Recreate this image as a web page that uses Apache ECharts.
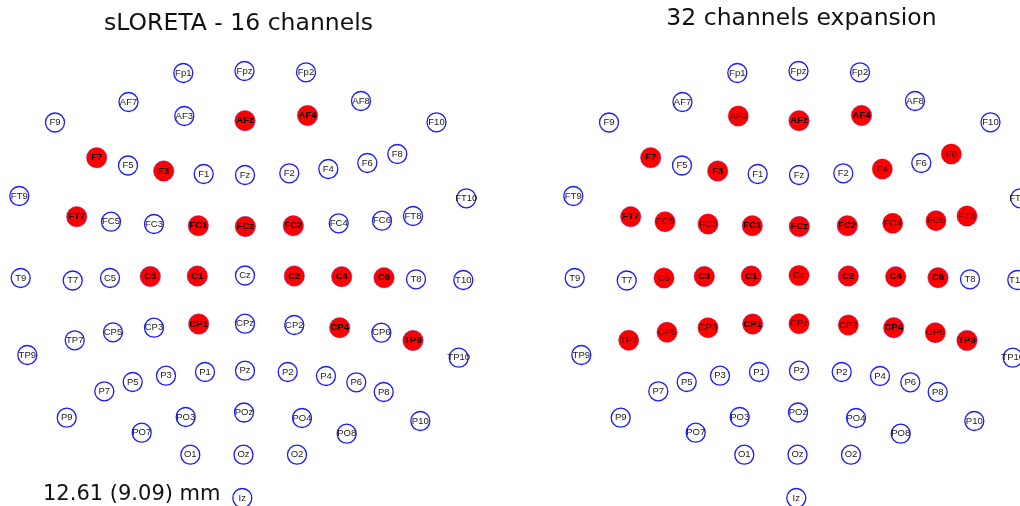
<!DOCTYPE html>
<html>
<head>
<meta charset="utf-8">
<script src="https://cdn.jsdelivr.net/npm/echarts@6/dist/echarts.min.js"></script>
<style>html,body{margin:0;padding:0;background:#fff}#c{width:1020px;height:506px}</style>
</head>
<body>
<div id="c"></div>
<script>
// Electrode names and positions (px-like units relative to Cz, y up)
var names = ['Fp1','Fpz','Fp2','AF7','AF3','AFz','AF4','AF8','F9','F7','F5','F3','F1','Fz','F2','F4','F6','F8','F10',
  'FT9','FT7','FC5','FC3','FC1','FCz','FC2','FC4','FC6','FT8','FT10',
  'T9','T7','C5','C3','C1','Cz','C2','C4','C6','T8','T10',
  'TP9','TP7','CP5','CP3','CP1','CPz','CP2','CP4','CP6','TP8','TP10',
  'P9','P7','P5','P3','P1','Pz','P2','P4','P6','P8','P10',
  'PO7','PO3','POz','PO4','PO8','O1','Oz','O2','Iz'];
var xs = [-61.7,-0.5,61,-116.5,-60.7,0,62.5,116,-190,-148.3,-117,-81.3,-41.3,0,44.3,83.3,122.3,152.3,191.5,
  -225.7,-168.3,-134,-91,-46.7,0.3,48.3,93.7,137,168,221.3,
  -224.3,-172.3,-135,-94.7,-47.7,0,49.3,96.7,139,171,218.3,
  -217.7,-170.3,-132,-91,-46.3,0,49.3,94.7,136.3,168,213.7,
  -178.3,-140.7,-112.3,-79,-40,0,42.7,81,111.3,138.7,175.3,
  -103.3,-59.3,-1,57,101.7,-54.7,-1.5,52,-2.7];
var ys = [202.5,204.5,203.2,173.5,159.5,154.8,160,174.5,153,117.8,110,104.5,101.5,100.5,102.2,106.5,112.5,121.5,153.2,
  79.5,58.8,53.8,51.5,49.8,49,49.8,52.2,54.8,59.5,77.2,
  -2.5,-5,-2.5,-1,-0.5,0,-0.5,-1.2,-2.2,-3.8,-4.5,
  -79.5,-64.8,-56.8,-52.2,-48.5,-48.2,-49.5,-52.2,-57.2,-65,-82.2,
  -142.2,-115.8,-106.5,-100.2,-96.5,-95.2,-96.5,-100.5,-106.8,-116.5,-145.5,
  -157.2,-141.5,-137,-142.5,-158.2,-179.2,-179.2,-179.2,-222.5];
var sel16 = ['AFz','AF4','F7','F3','FT7','FC1','FCz','FC2','C3','C1','C2','C4','C6','CP1','CP4','TP8'];
var sel32 = ['AF3','AFz','AF4','F7','F3','F4','F8','FT7','FC5','FC3','FC1','FCz','FC2','FC4','FC6','FT8',
  'C5','C3','C1','Cz','C2','C4','C6','TP7','CP5','CP3','CP1','CPz','CP2','CP4','CP6','TP8'];
var titles = ['sLORETA - 16 channels', '32 channels expansion'];
var errorText = '12.61 (9.09) mm';

function pts(filter) {
  var out = [];
  for (var i = 0; i < names.length; i++) if (filter(names[i])) out.push([xs[i], ys[i], names[i]]);
  return out;
}
var labelBase = {show: true, position: 'inside', fontSize: 9.5, fontFamily: 'Liberation Sans, Arial, sans-serif',
  textBorderWidth: 0, textBorderColor: 'transparent', textShadowBlur: 0,
  formatter: function (p) { return p.data[2]; }};
function series(idx, data, kind) {
  var s = {type: 'scatter', xAxisIndex: idx, yAxisIndex: idx, data: data, clip: false, silent: true,
    symbol: 'circle', label: Object.assign({}, labelBase)};
  if (kind === 'off') {
    s.symbolSize = 19;
    s.itemStyle = {color: '#ffffff', borderColor: '#1a1aff', borderWidth: 1.3, opacity: 1};
    s.label.color = '#1a1a1a';
  } else {
    s.symbolSize = 20.5;
    s.itemStyle = {color: '#ff0000', borderColor: 'rgba(110,40,200,0.6)', borderWidth: kind === 'on' ? 0.7 : 0.3, opacity: 1};
    s.label.color = kind === 'on' ? '#000' : '#3a0000';
    if (kind === 'on') s.label.fontWeight = 'bold';
  }
  return s;
}
var in16 = function (n) { return sel16.indexOf(n) >= 0; };
var in32 = function (n) { return sel32.indexOf(n) >= 0; };

var axisX = function (i, mx) { return {type: 'value', gridIndex: i, min: -245, max: mx, show: false}; };
var axisY = function (i) { return {type: 'value', gridIndex: i, min: -230.5, max: 275.5, show: false}; };

var chart = echarts.init(document.getElementById('c'), null, {renderer: 'canvas'});
chart.setOption({
  animation: false,
  backgroundColor: '#ffffff',
  grid: [
    {left: 0, top: 0, width: 490, height: 506},
    {left: 554, top: 0, width: 466, height: 506}
  ],
  xAxis: [axisX(0, 245), axisX(1, 221)],
  yAxis: [axisY(0), axisY(1)],
  graphic: [
    {type: 'text', x: 238.5, y: 36, style: {text: titles[0], fill: '#111', font: '23.5px "DejaVu Sans"', textAlign: 'center', textVerticalAlign: 'bottom'}, silent: true},
    {type: 'text', x: 801.5, y: 31, style: {text: titles[1], fill: '#111', font: '23.5px "DejaVu Sans"', textAlign: 'center', textVerticalAlign: 'bottom'}, silent: true},
    {type: 'text', x: 43, y: 505, style: {text: errorText, fill: '#111', font: '21px "DejaVu Sans"', textAlign: 'left', textVerticalAlign: 'bottom'}, silent: true}
  ],
  series: [
    series(0, pts(function (n) { return !in16(n); }), 'off'),
    series(0, pts(in16), 'on'),
    series(1, pts(function (n) { return !in32(n); }), 'off'),
    series(1, pts(in16), 'on'),
    series(1, pts(function (n) { return in32(n) && !in16(n); }), 'new')
  ]
});
</script>
</body>
</html>
